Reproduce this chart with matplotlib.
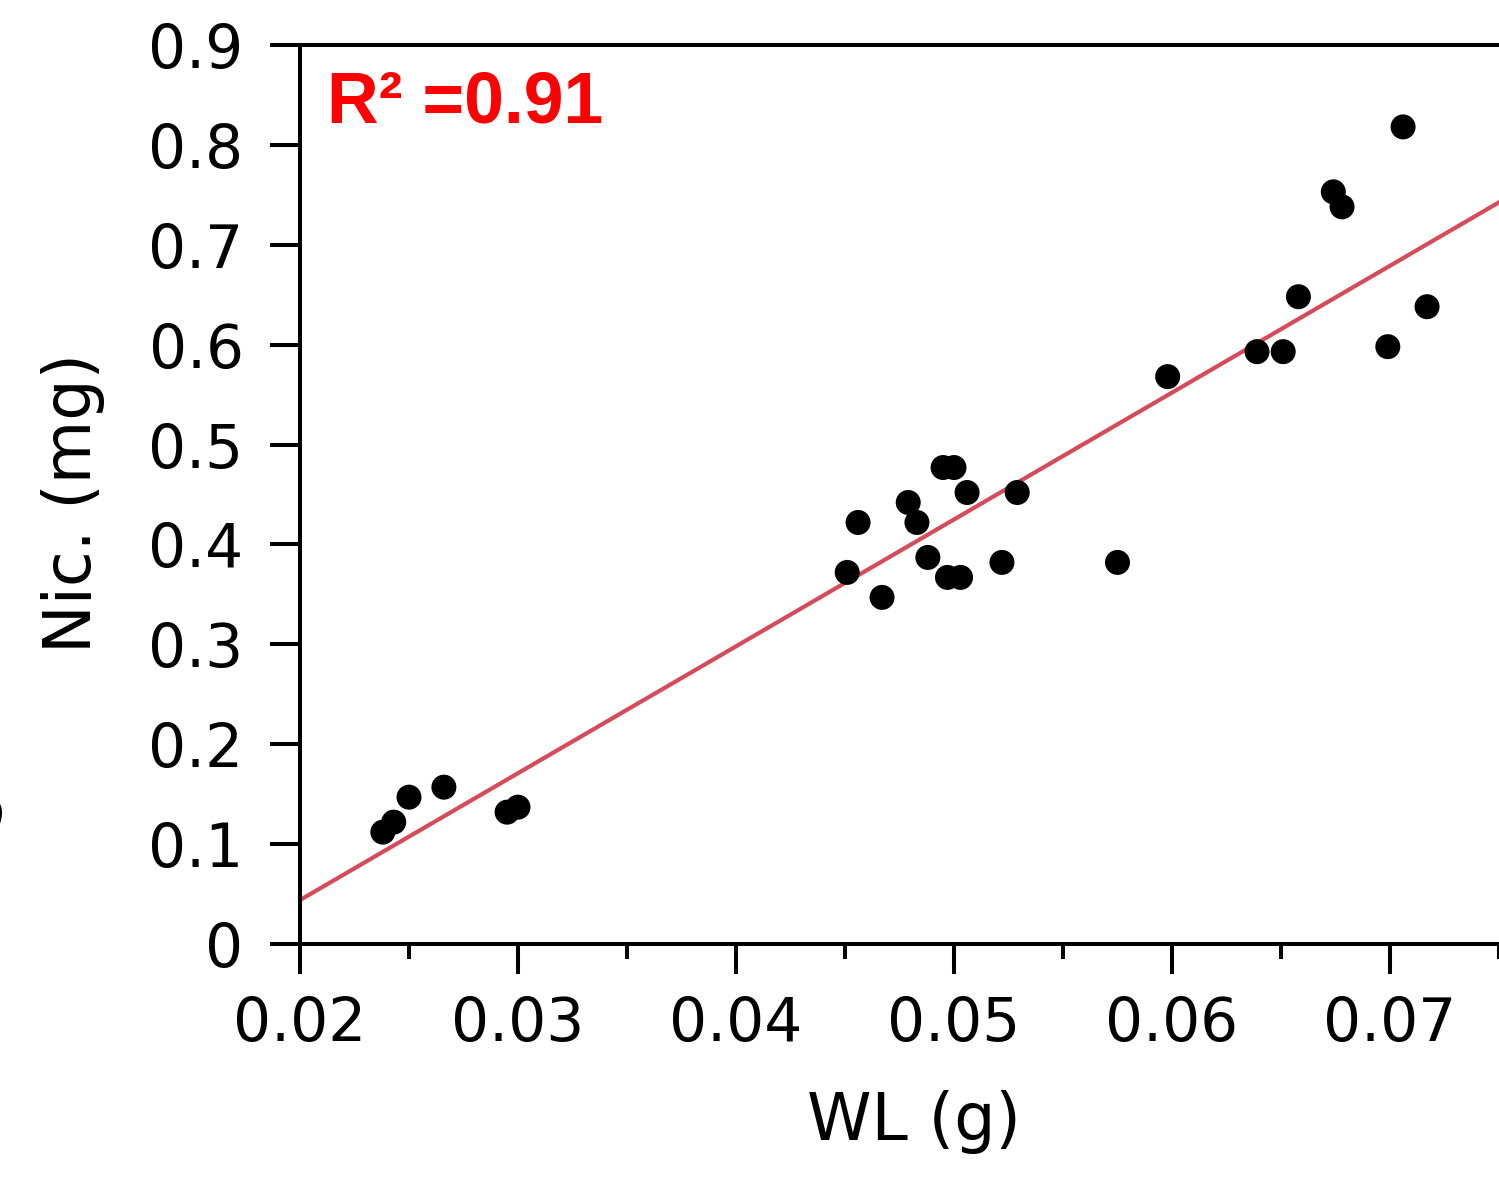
import numpy as np
import matplotlib.pyplot as plt
from matplotlib.ticker import MultipleLocator

# WL (g) vs nicotine (mg)
wl = [0.0238, 0.0243, 0.0250, 0.0266, 0.0295, 0.0300,
      0.0451, 0.0456, 0.0467, 0.0479, 0.0483, 0.0488, 0.0495, 0.0497,
      0.0500, 0.0503, 0.0506, 0.0522, 0.0529, 0.0575, 0.0598,
      0.0639, 0.0651, 0.0658, 0.0674, 0.0678, 0.0699, 0.0706, 0.0717]
nic = [0.112, 0.122, 0.147, 0.157, 0.132, 0.137,
       0.372, 0.422, 0.347, 0.442, 0.422, 0.387, 0.477, 0.367,
       0.477, 0.367, 0.452, 0.382, 0.452, 0.382, 0.568,
       0.593, 0.593, 0.648, 0.753, 0.738, 0.598, 0.818, 0.638]

# fitted line as drawn in the figure
slope = 12.7
intercept = -0.21
r2_text = 'R² =0.91'

yticks = [0, 0.1, 0.2, 0.3, 0.4, 0.5, 0.6, 0.7, 0.8, 0.9]
ytick_labels = ['0', '0.1', '0.2', '0.3', '0.4', '0.5', '0.6', '0.7', '0.8', '0.9']
xticks = [0.02, 0.03, 0.04, 0.05, 0.06, 0.07]
xtick_labels = ['0.02', '0.03', '0.04', '0.05', '0.06', '0.07']

plt.rcParams['font.family'] = 'DejaVu Sans'

fig = plt.figure(figsize=(14.99, 11.88), dpi=100)
ax = fig.add_axes([300 / 1499, 1 - 944 / 1188, 1 - 300 / 1499, 899 / 1188])

xs = np.array([0.02, 0.075])
ax.plot(xs, slope * xs + intercept, color='#d64b5a', lw=3, zorder=2)
ax.scatter(wl, nic, s=18 ** 2, color='black', edgecolors='none', zorder=3)

ax.set_xlim(0.02, 0.075)
ax.set_ylim(0, 0.9)
ax.set_xticks(xticks)
ax.set_xticklabels(xtick_labels)
ax.xaxis.set_minor_locator(MultipleLocator(0.005))
ax.set_yticks(yticks)
ax.set_yticklabels(ytick_labels)

for s in ['left', 'bottom', 'top']:
    ax.spines[s].set_linewidth(2.9)
ax.spines['right'].set_visible(False)

ax.tick_params(axis='both', which='major', direction='out', length=21.6,
               width=2.9, labelsize=43)
ax.tick_params(axis='y', pad=19)
ax.tick_params(axis='x', pad=15)
ax.tick_params(axis='x', which='minor', direction='out', length=11, width=2.9)

ax.set_xlabel('WL (g)', fontsize=47)
ax.set_ylabel('Nic. (mg)', fontsize=47)
ax.xaxis.set_label_coords(0.512, -0.162)
ax.yaxis.set_label_coords(-0.163, 0.4905)

ax.text(0.0225, 0.914, r2_text, transform=ax.transAxes, color='#ff0000',
        fontsize=51.5, fontweight='bold', family='Liberation Sans',
        va='baseline', ha='left')

# clipped letter from the neighbouring panel at the left edge
fig.text(-0.012, 0.32, 's', rotation=90, fontsize=42, ha='center', va='center')

fig.savefig('out.png', dpi=100)
